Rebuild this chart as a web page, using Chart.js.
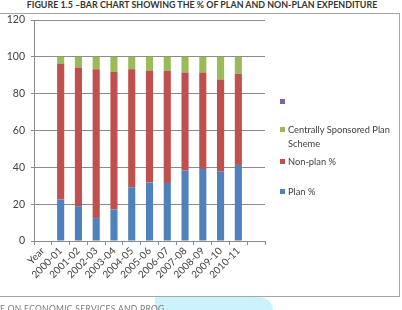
<!DOCTYPE html>
<html>
<head>
<meta charset="utf-8">
<script src="https://cdn.jsdelivr.net/npm/chart.js@4.4.1/dist/chart.umd.min.js"></script>
<style>
  body { margin: 0; width: 402px; height: 310px; overflow: hidden; background: #fff; position: relative; font-family: Lato, "Open Sans", sans-serif; }
  #frame { position: absolute; left: -3px; top: 13px; width: 403px; height: 284px; box-sizing: border-box; border: 1px solid #a6a6a6; }
  #title { position: absolute; left: 0; width: 404px; top: 0; text-align: center; font-weight: bold; font-size: 8.9px; line-height: 10px; color: #333; }
  #chart { position: absolute; left: 0; top: 0; }
  .lg { position: absolute; left: 280px; font-size: 9.3px; line-height: 13.5px; color: #404040; }
  .lg i { position: absolute; left: 0; top: 4px; width: 5px; height: 5px; }
  .lg span { display: block; margin-left: 8px; width: 112px; }
  #foot { position: absolute; left: 0; top: 304px; font-size: 8.5px; color: #7a7a7a; white-space: nowrap; letter-spacing: 0.3px; }
  #mark { position: absolute; left: 155px; top: 297px; width: 118px; height: 20px; background: #ccf2fd; border-top-right-radius: 14px; }
</style>
</head>
<body>
<div id="frame"></div>
<div id="title">FIGURE 1.5 –BAR CHART SHOWING THE % OF PLAN AND NON-PLAN EXPENDITURE</div>
<canvas id="chart" width="402" height="310"></canvas>
<div id="legend"></div>
<div id="mark"></div>
<div id="foot">E ON ECONOMIC SERVICES AND  PROG</div>
<script>
const categories = ['Year', '2000-01', '2001-02', '2002-03', '2003-04', '2004-05', '2005-06',
  '2006-07', '2007-08', '2008-09', '2009-10', '2010-11', ''];
const planPct = [null, 22.5, 18.9, 12.4, 17.1, 29.2, 31.7, 31.5, 38.2, 39.1, 37.8, 41.3, null];
const nonPlanPct = [null, 73.7, 75.3, 80.9, 74.6, 64.1, 60.7, 60.8, 53.3, 52.4, 49.9, 49.5, null];
const cssPct = [null, 3.8, 5.8, 6.7, 8.3, 6.7, 7.6, 7.7, 8.5, 8.5, 12.3, 9.2, null];
const blankSeries = categories.map(() => null);
const yTicks = [0, 20, 40, 60, 80, 100, 120];

const datasets = [
  { label: 'Plan %', data: planPct, backgroundColor: '#4F81BD' },
  { label: 'Non-plan %', data: nonPlanPct, backgroundColor: '#C0504D' },
  { label: 'Centrally Sponsored Plan Scheme', data: cssPct, backgroundColor: '#9BBB59' },
  { label: '', data: blankSeries, backgroundColor: '#8064A2' }
];
datasets.forEach(d => { d.barPercentage = 0.4; d.categoryPercentage = 1; d.borderWidth = 0; });

const grey = '#8c8c8c';
new Chart(document.getElementById('chart'), {
  type: 'bar',
  data: { labels: categories, datasets },
  options: {
    responsive: false,
    animation: false,
    layout: { padding: { left: 0, top: 20, right: 137, bottom: 0 } },
    plugins: { legend: { display: false }, tooltip: { enabled: false } },
    scales: {
      x: {
        stacked: true,
        afterFit: s => { s.height = 69; },
        border: { color: grey },
        grid: { offset: true, drawOnChartArea: false, tickLength: 4, color: grey },
        ticks: { minRotation: 45, maxRotation: 45, autoSkip: false, padding: 0,
          color: '#404040', font: { family: 'Lato', size: 10 } }
      },
      y: {
        stacked: true,
        min: 0, max: 120,
        afterFit: s => { s.width = 34; },
        afterBuildTicks: s => { s.ticks = yTicks.map(v => ({ value: v })); },
        border: { color: grey },
        grid: { color: grey, tickLength: 3 },
        ticks: { padding: 6, color: '#404040', font: { family: 'Lato', size: 10.5 } }
      }
    }
  }
});

// legend, Excel style (reversed order, wrapped entry)
const legendTops = [95, 123, 155, 185];
const legend = document.getElementById('legend');
datasets.slice().reverse().forEach((d, i) => {
  const el = document.createElement('div');
  el.className = 'lg';
  el.style.top = legendTops[i] + 'px';
  el.innerHTML = '<i style="background:' + d.backgroundColor + '"></i><span>' + (d.label || '&nbsp;') + '</span>';
  legend.appendChild(el);
});
</script>
</body>
</html>
